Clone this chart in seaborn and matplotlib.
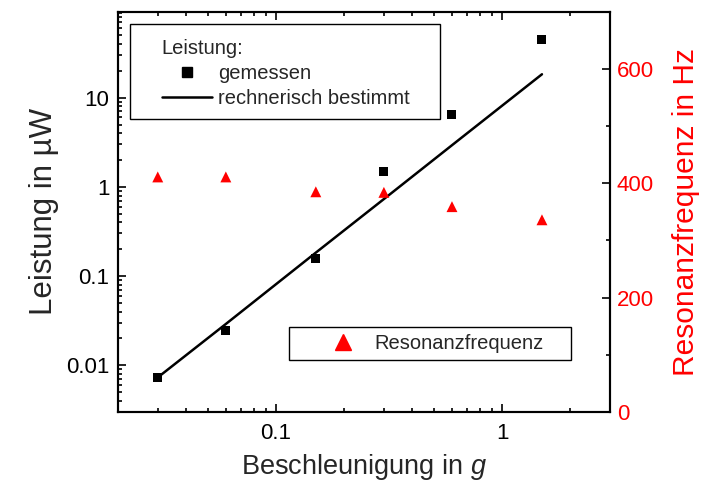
import numpy as np
import pandas as pd
import seaborn as sns
import matplotlib.pyplot as plt
from matplotlib.patches import Rectangle
from matplotlib.lines import Line2D
from matplotlib.ticker import LogLocator, FixedLocator, NullFormatter, FuncFormatter

# Beschleunigung (g)
beschleunigung = [0.03, 0.06, 0.15, 0.3, 0.6, 1.5]
# gemessene Leistung (µW)
leistung_gemessen = [0.0072, 0.0245, 0.156, 1.50, 6.4, 45.0]
# rechnerisch bestimmte Leistung (µW)
leistung_rechnerisch = [0.0073, 0.029, 0.183, 0.73, 2.93, 18.3]
# Resonanzfrequenz (Hz)
resonanzfrequenz = [411, 411, 385, 384, 359, 336]

df = pd.DataFrame({
    "a": beschleunigung,
    "P": leistung_gemessen,
    "P_calc": leistung_rechnerisch,
    "f": resonanzfrequenz,
})

sns.set_theme(style="ticks")
plt.rcParams["font.family"] = ["Liberation Sans", "DejaVu Sans"]
plt.rcParams["mathtext.fontset"] = "custom"
plt.rcParams["mathtext.it"] = "Liberation Sans:italic"
plt.rcParams["mathtext.rm"] = "Liberation Sans"

fig = plt.figure(figsize=(7.02, 4.88), dpi=100)
ax = fig.add_axes([0.168, 0.156, 0.701, 0.820])
ax2 = ax.twinx()

# Leistung (linke Achse, log-log)
sns.lineplot(data=df, x="a", y="P_calc", ax=ax, color="black", lw=1.8,
             legend=False, zorder=3)
sns.scatterplot(data=df, x="a", y="P", ax=ax, marker="s", color="black",
                s=42, edgecolor="none", legend=False, zorder=4)

# Resonanzfrequenz (rechte Achse)
sns.scatterplot(data=df, x="a", y="f", ax=ax2, marker="^", color="red",
                s=62, edgecolor="none", legend=False, zorder=4)

ax.set_xscale("log")
ax.set_yscale("log")
ax.set_xlim(0.02, 3.0)
ax.set_ylim(0.003, 92)
ax2.set_ylim(0, 700)

fmt = FuncFormatter(lambda v, p: f"{v:g}")
ax.xaxis.set_major_locator(FixedLocator([0.1, 1]))
ax.xaxis.set_major_formatter(fmt)
ax.xaxis.set_minor_locator(LogLocator(base=10, subs=np.arange(2, 10)))
ax.xaxis.set_minor_formatter(NullFormatter())
ax.yaxis.set_major_locator(FixedLocator([0.01, 0.1, 1, 10]))
ax.yaxis.set_major_formatter(fmt)
ax.yaxis.set_minor_locator(LogLocator(base=10, subs=np.arange(2, 10)))
ax.yaxis.set_minor_formatter(NullFormatter())
ax2.yaxis.set_major_locator(FixedLocator([0, 200, 400, 600]))
ax2.yaxis.set_minor_locator(FixedLocator([100, 300, 500]))

ax.tick_params(which="both", direction="in", top=True, right=False,
               width=1.2, colors="black", labelsize=16)
ax.tick_params(which="major", length=6)
ax.tick_params(which="minor", length=3)
ax.tick_params(axis="x", pad=8)
ax.tick_params(axis="y", pad=6)
ax2.tick_params(which="both", direction="in", width=1.2, labelsize=16,
                labelcolor="red", color="black")
ax2.tick_params(which="major", length=6, pad=5)
ax2.tick_params(which="minor", length=3)

for a in (ax, ax2):
    for s in a.spines.values():
        s.set_visible(True)
        s.set_linewidth(1.5)
        s.set_color("black")

ax.set_xlabel(r"Beschleunigung in $\mathit{g}$", fontsize=19.5, labelpad=6)
ax.set_ylabel("Leistung in µW", fontsize=22.5, labelpad=5)
ax2.set_ylabel("Resonanzfrequenz in Hz", fontsize=21.5, color="red",
               labelpad=13)

# Legendenrahmen
ax.add_patch(Rectangle((0.0244, 0.7325), 0.630, 0.2375, transform=ax.transAxes,
                       facecolor="white", edgecolor="black", lw=1.0, zorder=5))
ax2.add_patch(Rectangle((0.3476, 0.13), 0.573, 0.0825, transform=ax2.transAxes,
                        facecolor="white", edgecolor="black", lw=1.0, zorder=5))

h1 = [Line2D([], [], marker="s", color="black", ls="none", markersize=6.5),
      Line2D([], [], color="black", lw=1.8)]
leg1 = ax2.legend(h1, ["gemessen", "rechnerisch bestimmt"], title="Leistung:",
                  loc="upper left", bbox_to_anchor=(0.0888, 0.933),
                  frameon=False, fontsize=14.5, title_fontsize=14.5,
                  alignment="left", borderpad=0, borderaxespad=0,
                  handlelength=2.5, handletextpad=0.3, labelspacing=0.3)
leg1.set_zorder(6)
ax2.add_artist(leg1)

h2 = [Line2D([], [], marker="^", color="red", ls="none", markersize=11)]
leg2 = ax2.legend(h2, ["Resonanzfrequenz"], loc="center left",
                  bbox_to_anchor=(0.418, 0.171), frameon=False, fontsize=14.5,
                  borderpad=0, borderaxespad=0, handlelength=1.9,
                  handletextpad=0.6)
leg2.set_zorder(6)

fig.savefig("out.png", dpi=100)
